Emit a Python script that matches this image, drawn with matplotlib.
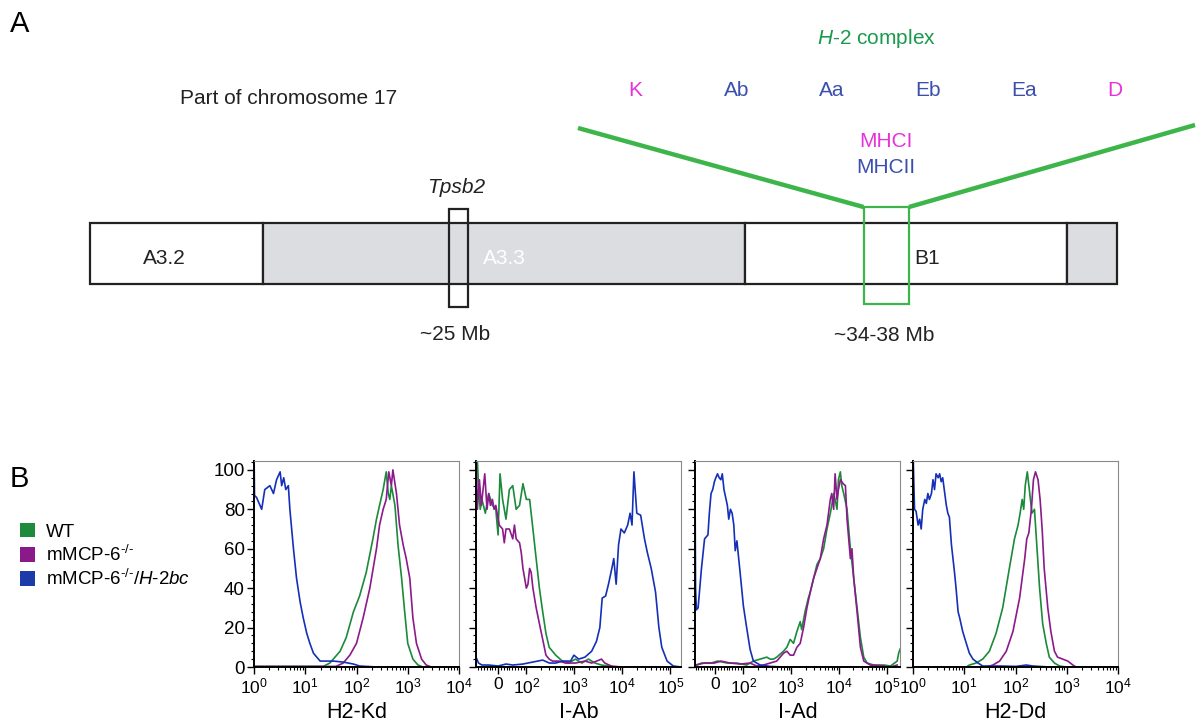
import numpy as np
import matplotlib
matplotlib.use("Agg")
import matplotlib.pyplot as plt
import matplotlib.ticker as mticker
from matplotlib.patches import Rectangle, Patch

plt.rcParams['font.family'] = ['Liberation Sans', 'DejaVu Sans']
plt.rcParams['mathtext.fontset'] = 'custom'
plt.rcParams['mathtext.rm'] = 'Liberation Sans'
plt.rcParams['mathtext.it'] = 'Liberation Sans:italic'
plt.rcParams['mathtext.bf'] = 'Liberation Sans:bold'

# ---------------- Panel A: chromosome 17 ideogram ----------------
band_names = ['A3.2', 'A3.3', 'B1', '']
band_edges = [90, 263, 745, 1067, 1117]
band_shaded = [False, True, False, True]
band_label_x = [164, 504, 927, None]
gene_names = ['K', 'Ab', 'Aa', 'Eb', 'Ea', 'D']
gene_class = ['I', 'II', 'II', 'II', 'II', 'I']
gene_x = [635, 737, 832, 928, 1024, 1115]

# ---------------- Panel B: flow histograms (% of max) ----------------
markers = ['H2-Kd', 'I-Ab', 'I-Ad', 'H2-Dd']

# H2-Kd (log10 of fluorescence)
kd_wt_log = [0, 1.35, 1.48, 1.68, 1.80, 1.94, 2.06, 2.19, 2.32, 2.39, 2.45, 2.52, 2.58, 2.62,
             2.65, 2.68, 2.75, 2.81, 2.88, 2.94, 3.00, 3.10, 3.20, 3.30, 4.0]
kd_wt_y = [0.3, 0.3, 2, 8, 15, 28, 36, 48, 65, 75, 82, 90, 99, 88,
           85, 92, 82, 62, 45, 28, 12, 4, 1, 0, 0]
kd_ko_log = [0, 1.60, 1.74, 1.87, 2.00, 2.13, 2.26, 2.39, 2.45, 2.52, 2.58, 2.63, 2.68, 2.71,
             2.78, 2.84, 2.91, 2.97, 3.04, 3.10, 3.17, 3.27, 3.36, 3.46, 4.0]
kd_ko_y = [0.3, 0.3, 2, 6, 12, 25, 40, 60, 72, 80, 85, 99, 92, 100,
           88, 72, 62, 55, 45, 25, 12, 4, 1, 0, 0]
kd_dko_log = [0.0, 0.01, 0.05, 0.10, 0.15, 0.21, 0.31, 0.38, 0.44, 0.51, 0.54, 0.58, 0.62, 0.67,
              0.70, 0.77, 0.83, 0.90, 0.96, 1.03, 1.09, 1.16, 1.29, 1.55, 1.74, 1.94, 2.06, 2.4, 4.0]
kd_dko_y = [110, 87, 86, 83, 80, 90, 92, 88, 95, 99, 92, 96, 90, 92,
            80, 60, 45, 33, 25, 17, 12, 7, 3, 3, 2.5, 1.5, 0.5, 0, 0]

# I-Ab (fluorescence, biexponential axis)
ab_wt_x = [-75, -69, -63, -57, -45, -33, -20, -8, 0, 7, 16, 28, 40, 52, 64, 76, 88, 100, 117,
           137, 160, 187, 219, 256, 299, 350, 409, 560, 766, 1047, 1432, 1963, 2684, 3672,
           5020, 6870, 166000]
ab_wt_y = [110, 92, 80, 85, 78, 88, 82, 80, 67, 98, 85, 75, 90, 92, 80, 82, 93, 85, 85,
           70, 55, 40, 28, 17, 10, 8, 6, 3, 2, 4, 2, 4, 2, 1,
           0.5, 0, 0]
ab_ko_x = [-78, -73, -66, -59, -47, -39, -33, -27, -20, -14, -8, 4, 16, 22, 28, 40, 52, 58, 64,
           76, 82, 88, 94, 100, 108, 117, 126, 137, 160, 187, 219, 256, 299, 350, 478, 655,
           1047, 1675, 2291, 3672, 4295, 5870, 9400, 166000]
ab_ko_y = [110, 80, 95, 82, 98, 80, 88, 82, 85, 80, 82, 72, 70, 63, 70, 70, 65, 72, 65,
           63, 58, 50, 45, 40, 42, 50, 48, 40, 30, 22, 14, 6, 4, 3, 3, 2,
           2, 3, 2, 4, 2, 0.5, 0, 0]
ab_dko_x = [-78, -69, -57, -33, 0, 28, 52, 88, 107, 219, 302, 407, 562, 832, 977, 1230, 1660,
            2290, 2880, 3390, 3800, 4470, 5130, 6030, 6610, 7410, 8320, 9330, 10960, 12880,
            14450, 15850, 17380, 19950, 23990, 28840, 33110, 39810, 48980, 57540, 66070,
            85110, 114800, 166000]
ab_dko_y = [5, 2, 1, 1, 0.5, 1.5, 1, 1.5, 2, 3.5, 2, 2, 3, 3, 6, 4, 5,
            8, 13, 20, 35, 36, 42, 50, 55, 42, 62, 70, 68, 72,
            78, 72, 99, 78, 77, 65, 58, 50, 38, 20, 10,
            3, 0.5, 0]

# I-Ad (fluorescence, biexponential axis)
ad_wt_x = [-72, -49, -15, 8, 43, 77, 117, 162, 224, 309, 363, 427, 500, 692, 813, 955, 1122,
           1318, 1549, 1660, 1950, 2290, 2512, 2951, 3467, 4074, 4786, 5623, 6607, 7079, 7762,
           8318, 9120, 9772, 10720, 11480, 12590, 14790, 17380, 20420, 23990, 28180, 33110,
           38900, 53700, 87100, 120200, 166000, 178000, 190000]
ad_wt_y = [0.5, 2, 2, 3, 2, 2, 1, 3, 4, 5, 4, 4, 5, 8, 10, 14, 12,
           18, 23, 19, 28, 35, 38, 45, 52, 55, 60, 70, 78, 82, 88,
           85, 80, 95, 99, 92, 88, 80, 60, 45, 30, 15, 5,
           2, 1, 1, 0.5, 3, 7, 9]
ad_ko_x = [-72, -38, -3, 20, 54, 89, 138, 190, 263, 363, 500, 692, 813, 955, 1122, 1318, 1549,
           1820, 2140, 2512, 2951, 3467, 4074, 4786, 5623, 6607, 7079, 7762, 8318, 9120, 9772,
           10720, 12220, 13680, 14790, 17380, 18750, 20420, 23990, 28180, 33110, 45400, 87100,
           120200, 166000]
ad_ko_y = [1, 2, 2, 3, 2, 1.5, 2, 0.5, 1, 2, 3, 7, 8, 6, 6, 10, 12,
           20, 30, 38, 45, 50, 55, 65, 72, 85, 88, 80, 98, 85, 90,
           95, 93, 92, 75, 55, 60, 45, 28, 10, 3, 1, 0.5,
           0, 1]
ad_dko_x = [-72, -70, -67, -61, -49, -38, -26, -21, -15, -9, -3, 2, 8, 14, 20, 25, 31, 37, 43,
            48, 54, 60, 66, 71, 77, 89, 100, 117, 138, 162, 224, 363, 692, 190000]
ad_dko_y = [94, 40, 29, 30, 50, 65, 67, 78, 88, 90, 94, 96, 98, 96, 95, 98, 90, 86, 82,
            75, 80, 78, 72, 59, 64, 47, 31, 20, 9, 3, 1, 0.3, 0, 0]

# H2-Dd (log10 of fluorescence)
dd_wt_log = [0, 1.04, 1.10, 1.23, 1.36, 1.49, 1.62, 1.75, 1.88, 1.98, 2.05, 2.09, 2.13, 2.16,
             2.19, 2.23, 2.27, 2.32, 2.37, 2.42, 2.47, 2.53, 2.60, 2.66, 2.76, 2.86, 2.99, 4.0]
dd_wt_y = [0, 0, 1, 2, 4, 8, 17, 30, 50, 65, 72, 78, 85, 80,
           92, 99, 90, 78, 80, 60, 40, 22, 12, 5, 2, 0.5, 0, 0]
dd_ko_log = [0, 1.43, 1.56, 1.69, 1.82, 1.95, 2.08, 2.18, 2.22, 2.26, 2.31, 2.35, 2.39, 2.44,
             2.48, 2.52, 2.56, 2.63, 2.69, 2.76, 2.82, 2.92, 3.02, 3.12, 3.18, 4.0]
dd_ko_y = [0, 0, 1, 3, 8, 18, 35, 55, 65, 68, 80, 95, 99, 95,
           85, 70, 50, 30, 18, 8, 5, 4, 3, 1, 0, 0]
dd_dko_log = [0.0, 0.01, 0.03, 0.06, 0.10, 0.13, 0.16, 0.19, 0.23, 0.26, 0.29, 0.32, 0.36, 0.39,
              0.42, 0.45, 0.49, 0.52, 0.55, 0.58, 0.62, 0.65, 0.68, 0.71, 0.75, 0.78, 0.81, 0.84,
              0.88, 0.91, 0.97, 1.04, 1.10, 1.17, 1.27, 1.36, 1.69, 2.01, 2.21, 2.34, 2.66, 4.0]
dd_dko_y = [110, 100, 80, 79, 72, 75, 70, 80, 85, 83, 88, 85, 88, 95,
            90, 98, 96, 98, 94, 96, 88, 82, 78, 76, 62, 55, 48, 40,
            28, 25, 18, 12, 7, 4, 2, 0.5, 0.5, 0.3, 1, 0.5, 0, 0]

genotypes = ['WT', r'mMCP-6$^{\text{-/-}}$', r'mMCP-6$^{\text{-/-}}$/$\mathit{H}$-$\mathit{2bc}$']
geno_colors = ['#1b8a3a', '#8b1a8b', '#1530b8']
legend_colors = ['#1e8a3c', '#8a1a8a', '#1c3aa8']

GREEN = '#3db54a'
MAGENTA = '#e633d9'
DBLUE = '#3b4fae'
TXT = '#222222'
FS = 15

fig = plt.figure(figsize=(11.99, 7.24), dpi=100)

# canvas in pixel coordinates for the schematic
cv = fig.add_axes([0, 0, 1, 1])
cv.set_xlim(0, 1199)
cv.set_ylim(724, 0)
cv.axis('off')

cv.text(10, 32, 'A', fontsize=21, color='black', va='baseline')
cv.text(10, 487, 'B', fontsize=21, color='black', va='baseline')

cv.text(180, 104, 'Part of chromosome 17', fontsize=FS, color=TXT, va='baseline')

# chromosome bands
starts = band_edges[:-1]
widths = np.diff(band_edges)
cv.barh(253, widths, left=starts, height=61,
        color=['#dcdde0' if s else 'white' for s in band_shaded],
        edgecolor=TXT, linewidth=1.6, zorder=2)
for name, bx, shaded in zip(band_names, band_label_x, band_shaded):
    if name:
        cv.text(bx, 264, name, fontsize=FS, ha='center', va='baseline',
                color='white' if shaded else TXT, zorder=4)

# Tpsb2 locus
cv.add_patch(Rectangle((449, 209), 19, 98, fill=False, edgecolor=TXT, linewidth=1.6, zorder=3))
cv.text(456, 193, 'Tpsb2', fontsize=FS, fontstyle='italic', ha='center', va='baseline', color=TXT)
cv.text(455, 340, '~25 Mb', fontsize=FS, ha='center', va='baseline', color=TXT)

# H-2 locus
cv.add_patch(Rectangle((863.5, 207), 45.5, 97, fill=False, edgecolor=GREEN, linewidth=1.6, zorder=3))
cv.plot([578, 863.5], [128, 207], color=GREEN, lw=3.2, solid_capstyle='butt', zorder=3)
cv.plot([909, 1195], [207, 125], color=GREEN, lw=3.2, solid_capstyle='butt', zorder=3)
cv.text(884, 341, '~34-38 Mb', fontsize=FS, ha='center', va='baseline', color=TXT)
cv.text(876, 44, r'$\mathit{H}$-$\mathit{2}$ complex', fontsize=FS, ha='center',
        va='baseline', color='#1a9a4c')
for g, cls, gx in zip(gene_names, gene_class, gene_x):
    cv.text(gx, 96, g, fontsize=FS, ha='center', va='baseline',
            color=MAGENTA if cls == 'I' else DBLUE)
cv.text(886, 147, 'MHCI', fontsize=FS, ha='center', va='baseline', color=MAGENTA)
cv.text(886, 173, 'MHCII', fontsize=FS, ha='center', va='baseline', color=DBLUE)

# ---------------- histograms ----------------
panel_left = [254, 476, 695, 913]
W, H = 1199.0, 724.0
series = [
    ([10 ** np.array(kd_wt_log), 10 ** np.array(kd_ko_log), 10 ** np.array(kd_dko_log)],
     [kd_wt_y, kd_ko_y, kd_dko_y], 'log', (1, 1e4)),
    ([ab_wt_x, ab_ko_x, ab_dko_x], [ab_wt_y, ab_ko_y, ab_dko_y], 'symlog', (-78, 1.66e5)),
    ([ad_wt_x, ad_ko_x, ad_dko_x], [ad_wt_y, ad_ko_y, ad_dko_y], 'symlog', (-72, 1.9e5)),
    ([10 ** np.array(dd_wt_log), 10 ** np.array(dd_ko_log), 10 ** np.array(dd_dko_log)],
     [dd_wt_y, dd_ko_y, dd_dko_y], 'log', (1, 1e4)),
]


def sym_fmt(v, pos):
    if v == 0:
        return '0'
    return r'$\mathdefault{10^{%d}}$' % int(round(np.log10(v)))


for i, (xs, ys, scale, xlim) in enumerate(series):
    ax = fig.add_axes([panel_left[i] / W, 1 - 667 / H, 205 / W, 206 / H])
    for x, y, c in zip(xs, ys, geno_colors):
        ax.plot(x, y, color=c, lw=1.2)
    if scale == 'log':
        ax.set_xscale('log')
        ax.xaxis.set_major_locator(mticker.LogLocator(base=10, numticks=10))
        ax.xaxis.set_minor_locator(mticker.LogLocator(base=10, subs=np.arange(2, 10), numticks=10))
        ax.xaxis.set_minor_formatter(mticker.NullFormatter())
    else:
        ax.set_xscale('symlog', linthresh=100, linscale=0.53)
        ax.xaxis.set_major_locator(mticker.FixedLocator([0, 1e2, 1e3, 1e4, 1e5]))
        ax.xaxis.set_major_formatter(mticker.FuncFormatter(sym_fmt))
        minors = [v for v in range(-70, 100, 10) if v != 0]
        for d in [2, 3, 4, 5]:
            minors += [m * 10 ** d for m in range(2, 10)]
        ax.xaxis.set_minor_locator(mticker.FixedLocator(minors))
        ax.xaxis.set_minor_formatter(mticker.NullFormatter())
    ax.set_xlim(*xlim)
    ax.set_ylim(0, 104.5)
    ax.yaxis.set_major_locator(mticker.MultipleLocator(20))
    ax.yaxis.set_minor_locator(mticker.MultipleLocator(4))
    ax.tick_params(which='major', direction='out', length=5, width=1, labelsize=12.5, pad=2)
    ax.tick_params(which='minor', direction='out', length=2.5, width=0.8)
    ax.tick_params(axis='y', labelleft=(i == 0), labelsize=13.5, pad=1.5)
    for s in ['top', 'right']:
        ax.spines[s].set_color('#8a8a8a')
        ax.spines[s].set_linewidth(0.8)
    for s in ['left', 'bottom']:
        ax.spines[s].set_color('black')
        ax.spines[s].set_linewidth(1.4)
    ax.set_xlabel(markers[i], fontsize=15.5, labelpad=4)

handles = [Patch(facecolor=c, edgecolor='none') for c in legend_colors]
fig.legend(handles, genotypes, loc='upper left', bbox_to_anchor=(20 / W, 1 - 523 / H),
           frameon=False, fontsize=13.5, handlelength=0.8, handleheight=0.8,
           handletextpad=0.6, labelspacing=0.22, borderpad=0, borderaxespad=0)

fig.savefig('out.png', dpi=100)
